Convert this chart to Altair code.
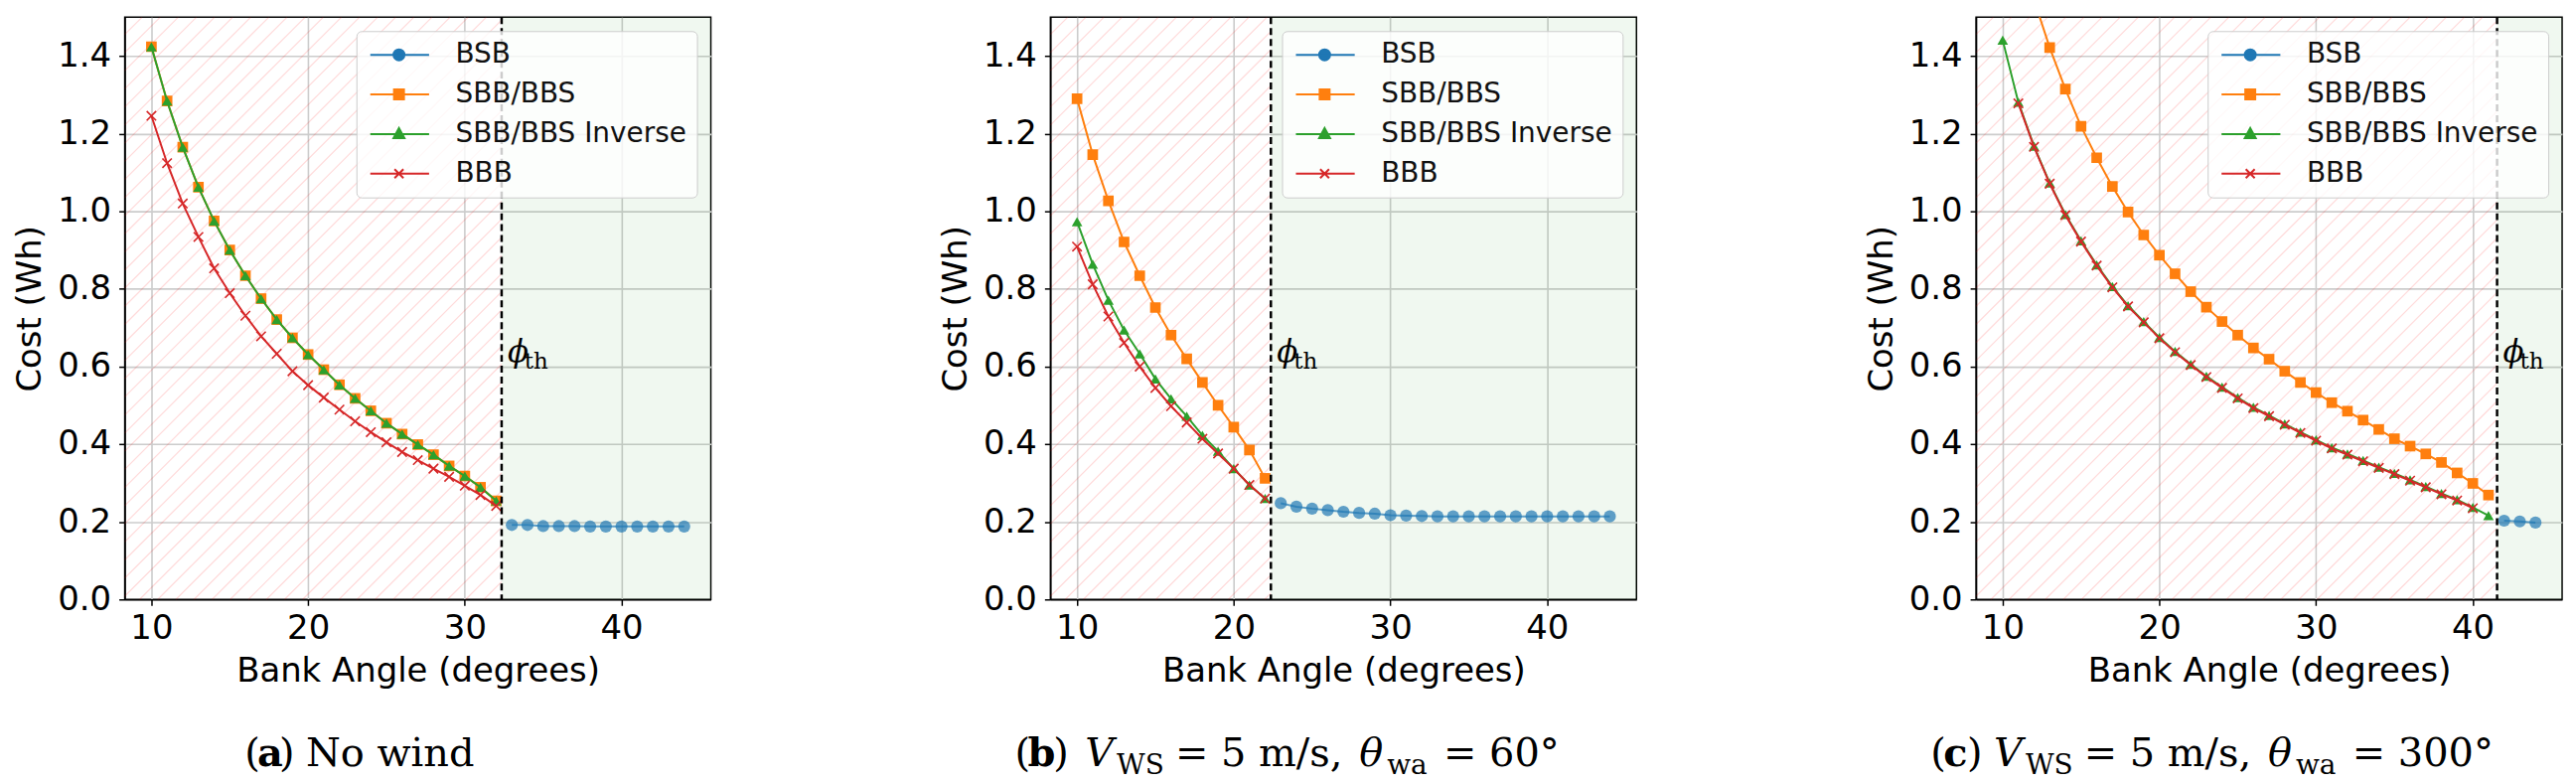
import altair as alt
import numpy as np
import pandas as pd

SERIES = ["BSB", "SBB/BBS", "SBB/BBS Inverse", "BBB"]
COLORS = ["#1f77b4", "#ff7f0e", "#2ca02c", "#d62728"]

# ---------------- data ----------------
# (a) No wind
A_BSB_X = list(range(33, 45))
A_BSB = [0.192, 0.192, 0.189, 0.189, 0.189, 0.188, 0.188, 0.188, 0.188, 0.188, 0.188, 0.188]
A_SBB_X = list(range(10, 33))
A_SBB = [1.424, 1.284, 1.165, 1.062, 0.975, 0.900, 0.834, 0.775, 0.721, 0.674, 0.631, 0.592,
         0.553, 0.518, 0.486, 0.454, 0.426, 0.399, 0.373, 0.344, 0.318, 0.289, 0.254]
A_INV_X = list(range(10, 33))
A_INV = [1.424, 1.284, 1.165, 1.062, 0.975, 0.900, 0.834, 0.775, 0.721, 0.674, 0.631, 0.592,
         0.553, 0.518, 0.486, 0.454, 0.426, 0.399, 0.373, 0.344, 0.318, 0.289, 0.254]
A_BBB_X = list(range(10, 33))
A_BBB = [1.246, 1.124, 1.020, 0.934, 0.853, 0.789, 0.731, 0.678, 0.633, 0.588, 0.552, 0.520,
         0.489, 0.459, 0.431, 0.405, 0.380, 0.359, 0.337, 0.316, 0.293, 0.269, 0.241]

# (b) V_WS = 5 m/s, theta_wa = 60
B_BSB_X = list(range(23, 45))
B_BSB = [0.248, 0.239, 0.234, 0.230, 0.226, 0.223, 0.221, 0.217, 0.216, 0.215, 0.214,
         0.214, 0.214, 0.214, 0.214, 0.214, 0.214, 0.214, 0.214, 0.214, 0.214, 0.214]
B_SBB_X = list(range(10, 23))
B_SBB = [1.290, 1.146, 1.027, 0.921, 0.834, 0.752, 0.681, 0.620, 0.559, 0.500, 0.444, 0.385, 0.312]
B_INV_X = list(range(10, 23))
B_INV = [0.973, 0.864, 0.771, 0.694, 0.633, 0.568, 0.517, 0.472, 0.423, 0.382, 0.337, 0.295, 0.260]
B_BBB_X = list(range(10, 23))
B_BBB = [0.909, 0.812, 0.729, 0.661, 0.600, 0.545, 0.498, 0.456, 0.414, 0.376, 0.337, 0.295, 0.260]

# (c) V_WS = 5 m/s, theta_wa = 300
C_BSB_X = [42, 43, 44]
C_BSB = [0.203, 0.201, 0.198]
C_SBB_X = list(range(12, 42))
C_SBB = [1.545, 1.422, 1.315, 1.219, 1.138, 1.064, 0.998, 0.939, 0.887, 0.839, 0.793, 0.753,
         0.716, 0.681, 0.648, 0.619, 0.588, 0.559, 0.533, 0.507, 0.485, 0.462, 0.438, 0.414,
         0.395, 0.375, 0.353, 0.326, 0.299, 0.269]
C_INV_X = list(range(10, 42))
C_INV = [1.441, 1.281, 1.168, 1.073, 0.992, 0.924, 0.862, 0.806, 0.757, 0.716, 0.675, 0.639,
         0.606, 0.575, 0.547, 0.520, 0.495, 0.474, 0.452, 0.431, 0.411, 0.391, 0.375, 0.358,
         0.341, 0.325, 0.308, 0.291, 0.273, 0.257, 0.237, 0.216]
C_BBB_X = list(range(11, 41))
C_BBB = [1.278, 1.166, 1.071, 0.990, 0.922, 0.860, 0.804, 0.755, 0.714, 0.673, 0.637, 0.604,
         0.573, 0.545, 0.518, 0.493, 0.472, 0.450, 0.429, 0.409, 0.389, 0.373, 0.356, 0.339,
         0.323, 0.306, 0.289, 0.271, 0.255, 0.235]

THRESHOLDS = [32.35, 22.37, 41.55]

# caption pieces: (text, style, left offset from plot's left edge in px, is_subscript)
CAPTIONS = [
    [("(", "r", 121, False), ("a", "b", 134, False), (")", "r", 156, False),
     ("No wind", "r", 183, False)],
    [("(", "r", -36, False), ("b", "b", -23, False), (")", "r", 3, False),
     ("V", "i", 35, False), ("WS", "r", 67, True), ("= 5 m/s,", "r", 126, False),
     ("θ", "i", 312, False), ("wa", "r", 340, True), ("= 60°", "r", 397, False)],
    [("(", "r", -46, False), ("c", "b", -33, False), (")", "r", -9, False),
     ("V", "i", 18, False), ("WS", "r", 50, True), ("= 5 m/s,", "r", 109, False),
     ("θ", "i", 295, False), ("wa", "r", 323, True), ("= 300°", "r", 380, False)],
]

X_TICKS = [10, 20, 30, 40]
Y_TICKS = [0.0, 0.2, 0.4, 0.6, 0.8, 1.0, 1.2, 1.4]
X_DOMAIN = [8.3, 45.7]
Y_DOMAIN = [0.0, 1.5]

# ---------------- styling ----------------
PW, PH = 592, 588
SANS = "DejaVu Sans"
SERIF = "DejaVu Serif"
LABEL_Y = 0.6
CAP_SIZE, SUB_SIZE = 40, 28
CAP_BASE, SUB_BASE = 756, 764

# legend symbols: line + marker (custom paths, 10 px per unit at symbolSize 400)
LEG_LINE = "M-1,0H4.94"
LEG_SHAPES = [
    LEG_LINE + "M2.45,0A0.55,0.55,0,1,1,1.35,0A0.55,0.55,0,1,1,2.45,0Z",
    LEG_LINE + "M1.4,-0.5H2.4V0.5H1.4Z",
    LEG_LINE + "M1.9,-0.6L2.45,0.4H1.35Z",
    LEG_LINE + "M1.45,-0.45L2.35,0.45M1.45,0.45L2.35,-0.45",
]
X_MARK = "M-1,-1L1,1M-1,1L1,-1"


def X(field):
    return alt.X(f"{field}:Q",
                 scale=alt.Scale(domain=X_DOMAIN, nice=False, zero=False),
                 axis=alt.Axis(values=X_TICKS, title="Bank Angle (degrees)", format="d"))


def Y(field):
    return alt.Y(f"{field}:Q",
                 scale=alt.Scale(domain=Y_DOMAIN, nice=False, zero=False),
                 axis=alt.Axis(values=Y_TICKS, title="Cost (Wh)", format=".1f"))


def hatch(thr):
    # diagonal 45-degree (in pixels) hatch lines clipped to [xmin, thr] x [0, 1.5]
    px_x = PW / (X_DOMAIN[1] - X_DOMAIN[0])
    px_y = PH / (Y_DOMAIN[1] - Y_DOMAIN[0])
    slope = px_x / px_y
    step = 18.3 / px_x
    span = (Y_DOMAIN[1] - Y_DOMAIN[0]) / slope
    rows = []
    c = np.floor((X_DOMAIN[0] - span) / step) * step
    while c < thr:
        xs = max(c, X_DOMAIN[0])
        xe = min(c + span, thr)
        if xe > xs:
            rows.append({"hx": xs, "hy": slope * (xs - c),
                         "hx2": xe, "hy2": slope * (xe - c)})
        c += step
    return pd.DataFrame(rows)


def series_layers(xs, ys, color, shape, size, opacity=1.0, filled=True, stroke_w=2):
    df = pd.DataFrame({"x": xs, "y": ys})
    line = alt.Chart(df).mark_line(color=color, strokeWidth=2, opacity=opacity, clip=True).encode(
        x=X("x"), y=Y("y"))
    if filled:
        pts = alt.Chart(df).mark_point(shape=shape, filled=True, size=size, color=color,
                                       opacity=opacity, clip=True)
    else:
        pts = alt.Chart(df).mark_point(shape=shape, filled=False, size=size, color=color,
                                       strokeWidth=stroke_w, opacity=opacity, clip=True)
    pts = pts.encode(x=X("x"), y=Y("y"))
    return [line, pts]


def caption_layers(pieces):
    one = pd.DataFrame({"k": [0]})
    out = []
    for text, style, left, sub in pieces:
        kw = dict(text=text, font=SERIF, fontSize=SUB_SIZE if sub else CAP_SIZE,
                  align="left", baseline="alphabetic", color="black")
        if style == "b":
            kw["fontWeight"] = "bold"
        if style == "i":
            kw["fontStyle"] = "italic"
        out.append(alt.Chart(one).mark_text(**kw).encode(
            x=alt.value(left), y=alt.value(SUB_BASE if sub else CAP_BASE)))
    return out


def panel(bsb_x, bsb, sbb_x, sbb, inv_x, inv, bbb_x, bbb, thr, caption):
    region = pd.DataFrame({"x0": [thr], "x1": [X_DOMAIN[1]], "y0": [Y_DOMAIN[0]], "y1": [Y_DOMAIN[1]]})
    green = alt.Chart(region).mark_rect(color="#2ca02c", opacity=0.07).encode(
        x=X("x0"), x2="x1", y=Y("y0"), y2="y1")
    h = alt.Chart(hatch(thr)).mark_rule(color="#ff0000", opacity=0.15, strokeWidth=1.2).encode(
        x=X("hx"), y=Y("hy"), x2="hx2", y2="hy2")

    layers = [green, h]
    layers += series_layers(bsb_x, bsb, COLORS[0], "circle", 150, opacity=0.7)
    layers += series_layers(sbb_x, sbb, COLORS[1], "square", 115)
    layers += series_layers(inv_x, inv, COLORS[2], "triangle-up", 115)
    layers += series_layers(bbb_x, bbb, COLORS[3], X_MARK, 90, filled=False, stroke_w=1.6)

    tdf = pd.DataFrame({"thr": [thr], "ly": [LABEL_Y]})
    rule = alt.Chart(tdf).mark_rule(color="black", strokeWidth=2.5, strokeDash=[7, 4]).encode(x=X("thr"))
    phi = alt.Chart(tdf).mark_text(text="ϕ", font=SERIF, fontStyle="italic", fontSize=31,
                                   align="left", baseline="alphabetic", dx=6, dy=-5,
                                   color="black").encode(x=X("thr"), y=Y("ly"))
    th = alt.Chart(tdf).mark_text(text="th", font=SERIF, fontSize=23,
                                  align="left", baseline="alphabetic", dx=23, dy=2,
                                  color="black").encode(x=X("thr"), y=Y("ly"))
    layers += [rule, phi, th]

    leg_df = pd.DataFrame({"series": SERIES, "x": [np.nan] * 4, "y": [np.nan] * 4})
    legend = alt.Legend(
        title=None, orient="top-right", offset=14,
        labelFont=SANS, labelFontSize=28, labelColor="#111111", labelLimit=600,
        labelOffset=62, symbolSize=400, symbolStrokeWidth=2, rowPadding=12,
        padding=10, fillColor="rgba(255,255,255,0.8)", strokeColor="#cccccc",
        cornerRadius=5)
    cscale = alt.Scale(domain=SERIES, range=COLORS)
    leg = alt.Chart(leg_df).mark_point(filled=True, opacity=1).encode(
        x=X("x"), y=Y("y"),
        fill=alt.Fill("series:N", scale=cscale, legend=legend),
        stroke=alt.Stroke("series:N", scale=cscale, legend=legend),
        shape=alt.Shape("series:N", scale=alt.Scale(domain=SERIES, range=LEG_SHAPES), legend=legend),
    )
    layers.append(leg)
    layers += caption_layers(caption)

    return alt.layer(*layers).properties(width=PW, height=PH)


pa = panel(A_BSB_X, A_BSB, A_SBB_X, A_SBB, A_INV_X, A_INV, A_BBB_X, A_BBB, THRESHOLDS[0], CAPTIONS[0])
pb = panel(B_BSB_X, B_BSB, B_SBB_X, B_SBB, B_INV_X, B_INV, B_BBB_X, B_BBB, THRESHOLDS[1], CAPTIONS[1])
pc = panel(C_BSB_X, C_BSB, C_SBB_X, C_SBB, C_INV_X, C_INV, C_BBB_X, C_BBB, THRESHOLDS[2], CAPTIONS[2])

chart = alt.hconcat(pa, pb, pc, spacing=229).resolve_scale(
    fill="independent", stroke="independent", shape="independent"
).resolve_legend(
    fill="independent", stroke="independent", shape="independent"
).properties(
    padding={"left": 5, "top": 6, "right": 5, "bottom": 0}
).configure_view(
    stroke="black", strokeWidth=1.5
).configure_axis(
    labelFont=SANS, labelFontSize=34, labelColor="black",
    titleFont=SANS, titleFontSize=34, titleFontWeight="normal", titleColor="black",
    tickSize=6, tickWidth=1.5, tickColor="black", labelPadding=6,
    domainColor="black", domainWidth=1.5,
    gridColor="#cccccc", gridWidth=1.6, titlePadding=10,
).configure_axisY(labelPadding=8)

chart.save("out.html", embed_options={"renderer": "svg", "actions": False})
